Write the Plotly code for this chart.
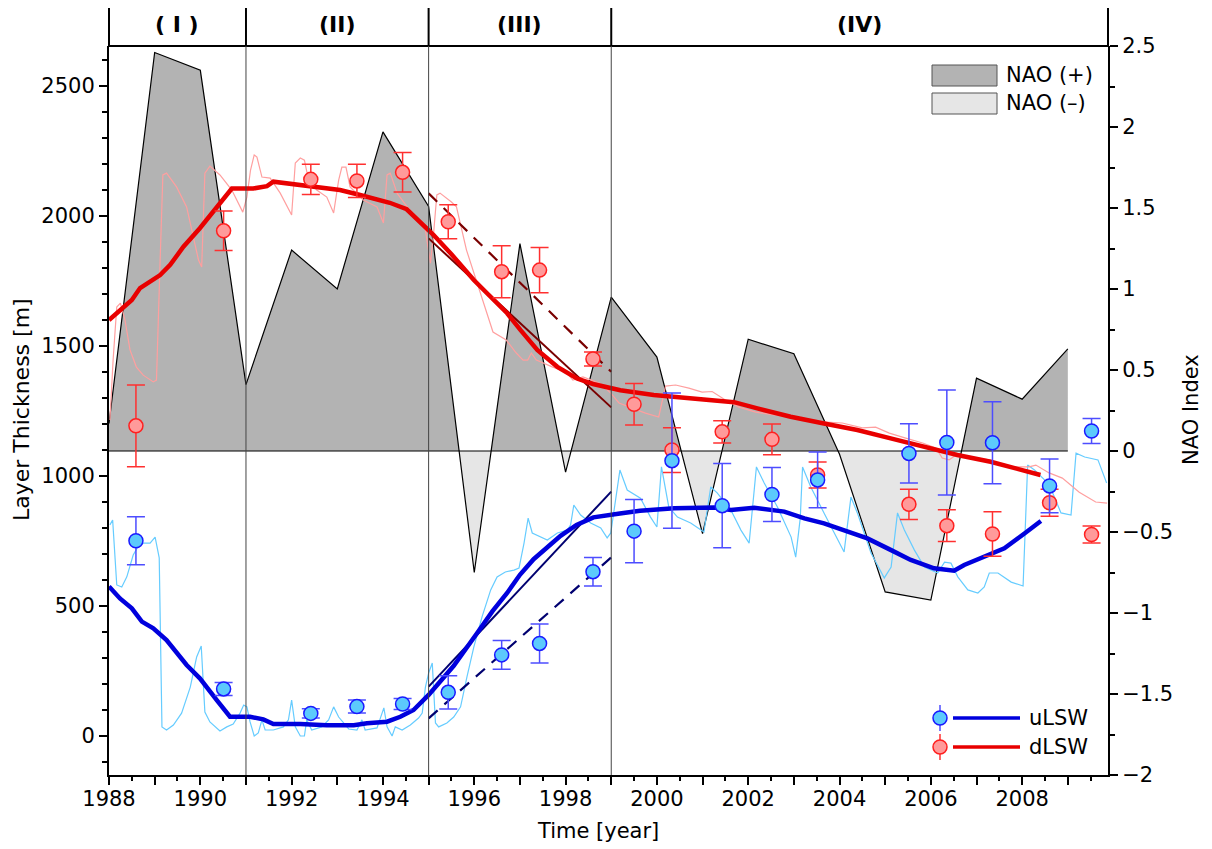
import plotly.graph_objects as go

# ---------------- DATA ----------------
nao_years = list(range(1988, 2010))
nao_values = [0.17, 2.46, 2.35, 0.41, 1.24, 1.00, 1.97, 1.51, -0.75, 1.28, -0.13,
              0.95, 0.58, -0.51, 0.69, 0.60, -0.02, -0.87, -0.92, 0.45, 0.32, 0.63]

obs_years = [1988.59, 1990.51, 1992.42, 1993.43, 1994.43, 1995.43, 1996.6, 1997.43, 1998.6,
             1999.5, 2000.33, 2001.43, 2002.52, 2003.52, 2005.52, 2006.35, 2007.35, 2008.6, 2009.52]
dlsw_obs = [1193, 1943, 2141, 2135, 2168, 1978, 1786, 1792, 1450,
            1276, 1100, 1170, 1141, 1004, 891, 809, 777, 897, 775]
dlsw_err = [157, 76, 58, 64, 76, 65, 100, 87, 27,
            80, 86, 43, 59, 50, 58, 61, 86, 52, 33]
ulsw_obs = [751, 181, 87, 113, 123, 168, 312, 356, 632,
            788, 1059, 886, 929, 985, 1087, 1129, 1128, 962, 1173]
ulsw_err = [92, 25, 18, 25, 21, 64, 55, 75, 55,
            122, 260, 162, 104, 107, 114, 202, 158, 103, 48]

ulsw_thin_t = [1988.02, 1988.08, 1988.17, 1988.28, 1988.39, 1988.53, 1988.68, 1988.9,
               1989.01, 1989.1, 1989.16, 1989.26, 1989.41, 1989.59, 1989.78, 1989.92,
               1990.02, 1990.1, 1990.21, 1990.43, 1990.58, 1990.72, 1990.87, 1990.95,
               1991.02, 1991.09, 1991.18, 1991.27, 1991.35, 1991.42, 1991.6, 1991.82, 1991.93,
               1992.0, 1992.08, 1992.19, 1992.28, 1992.33, 1992.44, 1992.66, 1992.81, 1992.92,
               1993.03, 1993.25, 1993.43, 1993.54, 1993.61, 1993.87,
               1994.02, 1994.09, 1994.2, 1994.27, 1994.42, 1994.6, 1994.78, 1994.86, 1994.93,
               1995.0, 1995.08, 1995.15, 1995.22, 1995.4, 1995.55, 1995.7, 1995.84, 1995.99,
               1996.17, 1996.36, 1996.5, 1996.68, 1996.87, 1996.98,
               1997.09, 1997.18, 1997.27, 1997.38, 1997.6, 1997.82,
               1998.04, 1998.11, 1998.18, 1998.33, 1998.55, 1998.77, 1998.91, 1998.99,
               1999.19, 1999.35, 1999.64, 1999.86,
               2000.0, 2000.1, 2000.26, 2000.45, 2000.74,
               2001.03, 2001.18, 2001.32, 2001.62, 2001.84,
               2002.02, 2002.18, 2002.35, 2002.64, 2002.94,
               2003.04, 2003.14, 2003.19, 2003.37, 2003.66, 2003.96,
               2004.1, 2004.25, 2004.39, 2004.69, 2004.98,
               2005.13, 2005.27, 2005.42, 2005.64, 2005.86,
               2006.15, 2006.3, 2006.44, 2006.59, 2006.81,
               2007.03, 2007.17, 2007.28, 2007.47, 2007.76,
               2008.02, 2008.12, 2008.27, 2008.49, 2008.67, 2008.85,
               2009.07, 2009.18, 2009.37, 2009.66, 2009.85]
ulsw_thin_v = [812, 831, 581, 573, 612, 696, 742, 742,
               765, 685, 35, 23, 42, 88, 188, 304,
               346, 92, 54, 19, 35, 46, 88, 119,
               112, 54, 0, 12, 62, 23, 23, 35, 62,
               138, 35, 0, 0, 62, 23, 35, 62, 112,
               73, 27, 23, 62, 23, 31,
               108, 35, 0, 35, 23, 42, 69, 88, 188,
               242, 281, 50, 35, 50, 73, 112, 227, 342,
               458, 562, 612, 631, 638, 646,
               742, 838, 781, 773, 754, 781,
               792, 812, 888, 850, 819, 800, 762, 781,
               1023, 946, 915, 842,
               804, 1035, 881, 842, 819,
               785, 958, 935, 869, 792,
               742, 1035, 973, 881, 765,
               688, 838, 1035, 958, 858, 754,
               708, 919, 858, 704, 608,
               650, 858, 792, 715, 650,
               627, 669, 665, 612, 562,
               550, 573, 627, 627, 592,
               577, 1042, 1023, 985, 935, 858,
               850, 1088, 1073, 1062, 973]

dlsw_thin_t = [1988.02, 1988.09, 1988.17, 1988.25, 1988.35, 1988.46, 1988.6, 1988.75, 1988.97,
               1989.04, 1989.12, 1989.18, 1989.26, 1989.48, 1989.7, 1989.85, 1989.96,
               1990.03, 1990.1, 1990.21, 1990.43, 1990.69, 1990.83, 1990.93,
               1991.02, 1991.1, 1991.18, 1991.24, 1991.35, 1991.53, 1991.75, 1991.93,
               1992.0, 1992.08, 1992.19, 1992.28, 1992.37, 1992.55, 1992.77, 1992.92,
               1993.03, 1993.1, 1993.19, 1993.28, 1993.57, 1993.87,
               1994.01, 1994.09, 1994.16, 1994.31, 1994.53, 1994.79, 1994.93,
               1995.04, 1995.11, 1995.18, 1995.25, 1995.5, 1995.61, 1995.83,
               1996.12, 1996.41, 1996.7, 1996.92,
               1997.07, 1997.17, 1997.25, 1997.36, 1997.72,
               1998.01, 1998.16, 1998.38, 1998.74, 1998.99,
               1999.17, 1999.46, 1999.75,
               2000.04, 2000.19, 2000.41, 2000.7, 2000.99,
               2001.21, 2001.5, 2001.8,
               2002.16, 2002.6,
               2003.04, 2003.62,
               2004.06, 2004.5, 2004.79,
               2005.09, 2005.45, 2005.82,
               2006.11, 2006.25, 2006.4, 2006.55, 2006.84,
               2007.28, 2007.72,
               2008.15, 2008.3, 2008.59, 2008.88,
               2009.25, 2009.61, 2009.86]
dlsw_thin_v = [1215, 1446, 1650, 1665, 1600, 1485, 1419, 1388, 1362,
               1369, 1831, 2158, 2165, 2112, 2035, 1919, 1831,
               1804, 2165, 2192, 2158, 2100, 2050, 2015,
               2073, 2177, 2235, 2227, 2150, 2146, 2088, 2023,
               2004, 2204, 2223, 2215, 2138, 2100, 2073, 2012,
               2138, 2188, 2188, 2112, 2062, 2035,
               1973, 2158, 2165, 2088, 2035, 1985, 1946,
               1819, 1935, 2081, 2088, 2054, 2035, 1869,
               1715, 1554, 1523, 1473,
               1446, 1446, 1473, 1446, 1419,
               1400, 1369, 1381, 1358, 1319,
               1281, 1262, 1242,
               1227, 1346, 1350, 1338, 1323,
               1325, 1292, 1265,
               1246, 1235,
               1223, 1208,
               1204, 1185, 1188,
               1165, 1146, 1127,
               1108, 1069, 1062, 1081, 1073,
               1062, 1035,
               1035, 1042, 1012, 992,
               938, 900, 896]

dlsw_smooth_t = [1988.0, 1988.24, 1988.5, 1988.68, 1988.9, 1989.12, 1989.34, 1989.63, 1989.99,
                 1990.28, 1990.47, 1990.69, 1991.16, 1991.46, 1991.6, 1992.04, 1992.63, 1993.06,
                 1993.5, 1993.87, 1994.15, 1994.52, 1994.82, 1995.11, 1995.5, 1995.99, 1996.28,
                 1996.72, 1997.01, 1997.38, 1997.82, 1998.25, 1998.6, 1999.2, 1999.93, 2000.66,
                 2001.39, 2001.69, 2002.2, 2002.93, 2003.66, 2004.39, 2005.12, 2005.85, 2006.58,
                 2007.31, 2008.04, 2008.4]
dlsw_smooth_v = [1600, 1638, 1677, 1723, 1747, 1773, 1812, 1882, 1953,
                 2017, 2055, 2106, 2106, 2115, 2132, 2123, 2113, 2100,
                 2081, 2062, 2051, 2026, 1975, 1927, 1853, 1754, 1703,
                 1626, 1562, 1485, 1420, 1375, 1354, 1330, 1312, 1299,
                 1288, 1284, 1260, 1228, 1202, 1177, 1145, 1113, 1081,
                 1055, 1023, 1004]

ulsw_smooth_t = [1988.0, 1988.24, 1988.5, 1988.72, 1988.97, 1989.26, 1989.7, 1989.99, 1990.36,
                 1990.65, 1991.09, 1991.38, 1991.6, 1992.19, 1992.77, 1993.36, 1993.65, 1994.09,
                 1994.38, 1994.67, 1995.0, 1995.55, 1996.06, 1996.4, 1996.72, 1997.0, 1997.3,
                 1997.89, 1998.24, 1998.61, 1999.19, 1999.63, 2000.38, 2001.25, 2001.62, 2002.13,
                 2002.79, 2003.23, 2003.66, 2004.1, 2004.61, 2005.13, 2005.56, 2006.07, 2006.51,
                 2006.73, 2007.17, 2007.61, 2008.05, 2008.41]
ulsw_smooth_v = [575, 529, 491, 440, 414, 369, 273, 222, 138,
                 74, 74, 64, 46, 46, 41, 41, 49, 55,
                 74, 100, 158, 270, 395, 480, 550, 620, 680,
                 770, 812, 841, 856, 866, 876, 879, 869, 878,
                 863, 837, 818, 792, 760, 715, 677, 645, 636,
                 658, 690, 722, 779, 827]

# linear trends in period III
trend_t = [1995.0, 1999.0]
dlsw_trend_solid = [1914, 1264]
dlsw_trend_dash = [2087, 1401]
ulsw_trend_solid = [190, 940]
ulsw_trend_dash = [68, 687]

period_bounds = [1991, 1995, 1999]
period_labels = ["( I )", "(II)", "(III)", "(IV)"]

# ---------------- STYLE / GEOMETRY ----------------
OFF = 8                      # default page margin of the html body
PL, PR, PT, PB = 109, 1108, 46, 775   # plot area in window pixels
W, H = 1212 - OFF, 849 - OFF
L, T = PL - OFF, PT - OFF
PW, PH = PR - PL, PB - PT
R, B = W - L - PW, H - T - PH
XR = [1988, 2009.88]
FONT = "DejaVu Sans, Verdana, sans-serif"
FS = 21


def px(x):
    return (x - PL) / PW


def py(y):
    return (PB - y) / PH


fig = go.Figure()

# NAO fill: split into positive / negative parts at zero crossings
fx, fy = [], []
for i, (xv, yv) in enumerate(zip(nao_years, nao_values)):
    if i > 0:
        x0, y0 = nao_years[i - 1], nao_values[i - 1]
        if y0 * yv < 0:
            fx.append(x0 + (xv - x0) * (-y0) / (yv - y0))
            fy.append(0.0)
    fx.append(xv)
    fy.append(yv)
pos = [max(v, 0) for v in fy]
neg = [min(v, 0) for v in fy]

fig.add_trace(go.Scatter(x=fx, y=neg, mode="lines", fill="tozeroy", fillcolor="#e6e6e6",
                         line=dict(width=0), yaxis="y", showlegend=False, hoverinfo="skip"))
fig.add_trace(go.Scatter(x=fx, y=pos, mode="lines", fill="tozeroy", fillcolor="#b3b3b3",
                         line=dict(width=0), yaxis="y", showlegend=False, hoverinfo="skip"))
fig.add_trace(go.Scatter(x=nao_years, y=nao_values, mode="lines",
                         line=dict(color="black", width=1.2), yaxis="y", showlegend=False))
fig.add_trace(go.Scatter(x=[nao_years[0], nao_years[-1]], y=[0, 0], mode="lines",
                         line=dict(color="black", width=1.2), yaxis="y", showlegend=False))

# thin series
fig.add_trace(go.Scatter(x=ulsw_thin_t, y=ulsw_thin_v, mode="lines",
                         line=dict(color="#66ccff", width=1.2), yaxis="y2", showlegend=False))
fig.add_trace(go.Scatter(x=dlsw_thin_t, y=dlsw_thin_v, mode="lines",
                         line=dict(color="#ff9f9f", width=1.2), yaxis="y2", showlegend=False))

# trends
fig.add_trace(go.Scatter(x=trend_t, y=ulsw_trend_solid, mode="lines",
                         line=dict(color="#000070", width=2), yaxis="y2", showlegend=False))
fig.add_trace(go.Scatter(x=trend_t, y=ulsw_trend_dash, mode="lines",
                         line=dict(color="#000070", width=2.2, dash="12px,9px"), yaxis="y2", showlegend=False))
fig.add_trace(go.Scatter(x=trend_t, y=dlsw_trend_solid, mode="lines",
                         line=dict(color="#7a0000", width=2), yaxis="y2", showlegend=False))
fig.add_trace(go.Scatter(x=trend_t, y=dlsw_trend_dash, mode="lines",
                         line=dict(color="#7a0000", width=2.2, dash="12px,9px"), yaxis="y2", showlegend=False))

# smoothed series
fig.add_trace(go.Scatter(x=ulsw_smooth_t, y=ulsw_smooth_v, mode="lines",
                         line=dict(color="#0000dd", width=4.5), yaxis="y2", showlegend=False))
fig.add_trace(go.Scatter(x=dlsw_smooth_t, y=dlsw_smooth_v, mode="lines",
                         line=dict(color="#e80000", width=4.5), yaxis="y2", showlegend=False))

# observations
fig.add_trace(go.Scatter(x=obs_years, y=dlsw_obs, mode="markers", yaxis="y2", showlegend=False,
                         marker=dict(size=14, color="#ff9a9a", line=dict(color="#ff2020", width=1.5)),
                         error_y=dict(type="data", array=dlsw_err, color="#ff3030", thickness=1.5, width=9)))
fig.add_trace(go.Scatter(x=obs_years, y=ulsw_obs, mode="markers", yaxis="y2", showlegend=False,
                         marker=dict(size=14, color="#5ccafc", line=dict(color="#1a1aff", width=1.5)),
                         error_y=dict(type="data", array=ulsw_err, color="#4d4dff", thickness=1.5, width=9)))

shapes = []
annotations = []


def note(xp, yp, text, size=FS, xanchor="center", angle=0, xref="paper"):
    annotations.append(dict(x=xp, y=yp, xref=xref, yref="paper", text=text, showarrow=False,
                            xanchor=xanchor, yanchor="middle", textangle=angle,
                            font=dict(family=FONT, size=size, color="black")))


# header
HT = 1 + 44 / PH
shapes.append(dict(type="rect", xref="paper", yref="paper", x0=0, x1=1, y0=1, y1=HT,
                   line=dict(color="black", width=2), layer="above"))
for xb in period_bounds:
    shapes.append(dict(type="line", xref="x", yref="paper", x0=xb, x1=xb, y0=1, y1=HT,
                       line=dict(color="black", width=2), layer="above"))
    shapes.append(dict(type="line", xref="x", yref="paper", x0=xb, x1=xb, y0=0, y1=1,
                       line=dict(color="#444444", width=1), layer="above"))
edges = [XR[0]] + period_bounds + [XR[1]]
for i, lab in enumerate(period_labels):
    note((edges[i] + edges[i + 1]) / 2, (1 + HT) / 2, "<b>" + lab + "</b>", size=22, xref="x")

# NAO legend
for (y0, y1, col, lab) in [(65, 86, "#b3b3b3", "NAO (+)"), (93, 114, "#e6e6e6", "NAO (\u2013)")]:
    shapes.append(dict(type="rect", xref="paper", yref="paper", x0=px(932), x1=px(997),
                       y0=py(y1), y1=py(y0), fillcolor=col, line=dict(color="#555555", width=1),
                       layer="above"))
    note(px(1004), py((y0 + y1) / 2), lab, xanchor="left")

# series legend
for (yc, ec, fc, mc, lc, lab) in [(718, "#4d4dff", "#5ccafc", "#1a1aff", "#0000dd", "uLSW"),
                                  (747, "#ff3030", "#ff9a9a", "#ff2020", "#e80000", "dLSW")]:
    shapes.append(dict(type="line", xref="paper", yref="paper", x0=px(940), x1=px(940),
                       y0=py(yc + 13), y1=py(yc - 13), line=dict(color=ec, width=1.5), layer="above"))
    shapes.append(dict(type="circle", xref="paper", yref="paper", xsizemode="pixel", ysizemode="pixel",
                       xanchor=px(940), yanchor=py(yc), x0=-7, x1=7, y0=-7, y1=7,
                       fillcolor=fc, line=dict(color=mc, width=1.5), layer="above"))
    shapes.append(dict(type="line", xref="paper", yref="paper", x0=px(953), x1=px(1020),
                       y0=py(yc), y1=py(yc), line=dict(color=lc, width=3.5), layer="above"))
    note(px(1027), py(yc), lab, xanchor="left")

# axis titles
note(px(21), py(410), "Layer Thickness [m]", size=22, angle=-90)
note(px(1191), py(410), "NAO Index", angle=-90)
note(px(598), py(831), "Time [year]")

xt = list(range(1988, 2010))
fig.update_layout(
    width=W, height=H, autosize=False,
    margin=dict(l=L, r=R, t=T, b=B, pad=0),
    paper_bgcolor="white", plot_bgcolor="white",
    font=dict(family=FONT, size=FS, color="black"),
    showlegend=False,
    shapes=shapes, annotations=annotations,
    xaxis=dict(range=XR, tickmode="array", tickvals=xt,
               ticktext=[str(v) if v % 2 == 0 else "" for v in xt],
               ticks="outside", ticklen=8, tickwidth=1.5, tickcolor="black", ticklabelstandoff=-4,
               showline=True, linewidth=2, linecolor="black", showgrid=False, zeroline=False,
               tickfont=dict(family=FONT, size=FS, color="black"),
               minor=dict(ticks="outside", ticklen=4, tickwidth=1.5, tickcolor="black",
                          tickmode="linear", tick0=1988, dtick=0.5, showgrid=False)),
    yaxis=dict(side="right", range=[-2, 2.5], tickmode="linear", tick0=0, dtick=0.5,
               ticks="outside", ticklen=8, tickwidth=1.5, tickcolor="black",
               showline=True, linewidth=2, linecolor="black", showgrid=False, zeroline=False,
               tickfont=dict(family=FONT, size=FS, color="black"),
               minor=dict(ticks="outside", ticklen=5, tickwidth=1.5, tickcolor="black",
                          tickmode="linear", tick0=0, dtick=0.25, showgrid=False)),
    yaxis2=dict(overlaying="y", side="left", range=[-150, 2654], tickmode="linear", tick0=0, dtick=500,
                ticks="outside", ticklen=8, tickwidth=1.5, tickcolor="black",
                showline=True, linewidth=2, linecolor="black", showgrid=False, zeroline=False,
                tickfont=dict(family=FONT, size=FS, color="black"),
                minor=dict(ticks="outside", ticklen=5, tickwidth=1.5, tickcolor="black",
                           tickmode="linear", tick0=0, dtick=100, showgrid=False)),
)

fig.write_html("out.html")
